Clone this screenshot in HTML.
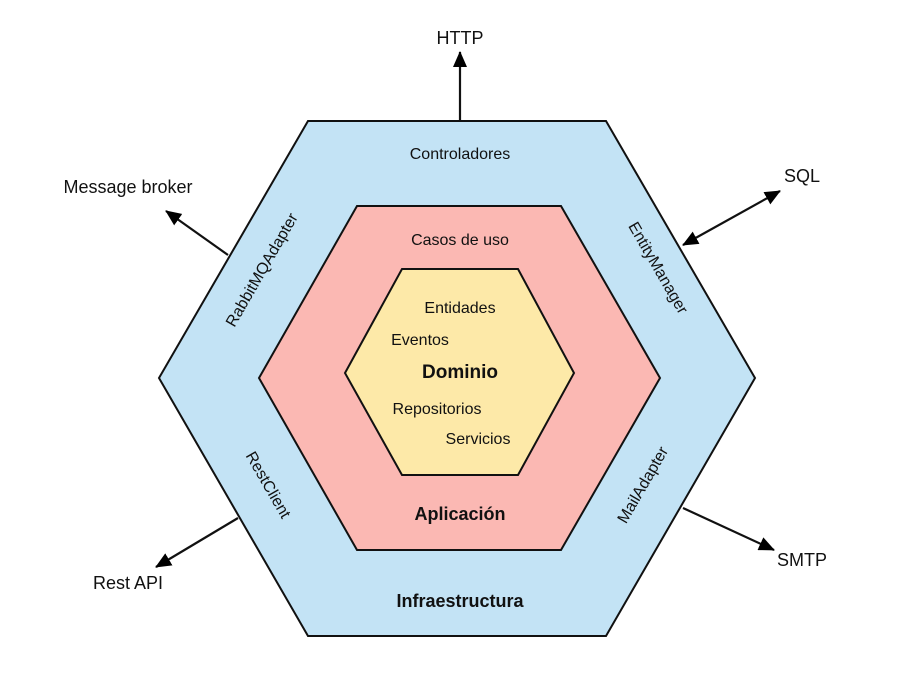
<!DOCTYPE html>
<html><head><meta charset="utf-8"><style>body{margin:0;background:#fff}</style></head><body>
<svg width="923" height="686" viewBox="0 0 923 686" xmlns="http://www.w3.org/2000/svg" font-family="Liberation Sans, sans-serif">
<defs>
<marker id="b" markerWidth="16" markerHeight="14" refX="15" refY="7" orient="auto-start-reverse" markerUnits="userSpaceOnUse"><path d="M0,0 L16,7 L0,14 z" fill="#000"/></marker>
</defs>
<polygon points="308,121 606,121 755,378 606,636 308,636 159,378" fill="#c3e3f5" stroke="#111" stroke-width="2"/>
<polygon points="357,206 561,206 660,378 561,550 357,550 259,378" fill="#fbb8b3" stroke="#111" stroke-width="2"/>
<polygon points="402,269 518,269 574,373 518,475 402,475 345,373" fill="#fde9a8" stroke="#111" stroke-width="2"/>
<g stroke="#111" stroke-width="2.2" fill="none">
<line x1="460" y1="121" x2="460" y2="52" marker-end="url(#b)"/>
<line x1="228" y1="255" x2="166" y2="211" marker-end="url(#b)"/>
<line x1="683" y1="245" x2="780" y2="191" marker-end="url(#b)" marker-start="url(#b)"/>
<line x1="683" y1="508" x2="774" y2="550" marker-end="url(#b)"/>
<line x1="238" y1="518" x2="156" y2="567" marker-end="url(#b)"/>
</g>
<g fill="#111" text-anchor="middle">
<text x="460" y="44" font-size="18">HTTP</text>
<text x="128" y="193" font-size="18">Message broker</text>
<text x="802" y="182" font-size="18">SQL</text>
<text x="802" y="566" font-size="18">SMTP</text>
<text x="128" y="589" font-size="18">Rest API</text>
<text x="460" y="159" font-size="16">Controladores</text>
<text x="460" y="245" font-size="16">Casos de uso</text>
<text x="460" y="313" font-size="16">Entidades</text>
<text x="420" y="345" font-size="16">Eventos</text>
<text x="460" y="378" font-size="19" font-weight="bold">Dominio</text>
<text x="437" y="414" font-size="16">Repositorios</text>
<text x="478" y="444" font-size="16">Servicios</text>
<text x="460" y="520" font-size="18" font-weight="bold">Aplicación</text>
<text x="460" y="607" font-size="18" font-weight="bold">Infraestructura</text>
<text transform="translate(262,270) rotate(-60)" y="5" font-size="16">RabbitMQAdapter</text>
<text transform="translate(658,268) rotate(60)" y="5" font-size="16">EntityManager</text>
<text transform="translate(268,485) rotate(60)" y="5" font-size="16">RestClient</text>
<text transform="translate(643,485) rotate(-60)" y="5" font-size="16">MailAdapter</text>
</g>
</svg>
</body></html>
